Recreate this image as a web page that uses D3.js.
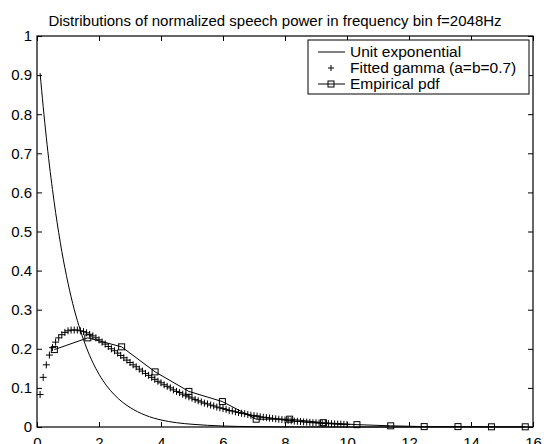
<!DOCTYPE html>
<html>
<head>
<meta charset="utf-8">
<script src="https://cdn.jsdelivr.net/npm/d3@7"></script>
<style>
  body { margin: 0; background: #fff; }
  svg { font-family: "Liberation Sans", Arial, Helvetica, sans-serif; }
  .tick text { font-size: 15px; fill: #000; }
</style>
</head>
<body>
<svg id="chart" width="544" height="444"></svg>
<script>
// unit exponential
const expX = [0.1, 0.2, 0.3, 0.4, 0.5, 0.6, 0.7, 0.8, 0.9, 1.0, 1.2, 1.4, 1.6, 1.8, 2.0, 2.25, 2.5, 2.75, 3.0, 3.5, 4.0, 4.5, 5.0, 6.0, 7.0, 8.0, 10.0, 12.0, 16.0];
const expY = [0.905, 0.819, 0.741, 0.670, 0.607, 0.549, 0.497, 0.449, 0.407, 0.368, 0.301, 0.247, 0.202, 0.165, 0.135, 0.105, 0.082, 0.064, 0.050, 0.030, 0.018, 0.011, 0.007, 0.0025, 0.0009, 0.0003, 0.00005, 0, 0];

// fitted gamma markers, x = 0.1 .. 10.0 step 0.1
const gammaY = [
  0.083, 0.127, 0.159, 0.184, 0.203, 0.217, 0.228, 0.236, 0.242, 0.246,
  0.248, 0.248, 0.248, 0.246, 0.244, 0.241, 0.237, 0.233, 0.228, 0.223,
  0.217, 0.212, 0.206, 0.200, 0.195, 0.189, 0.183, 0.177, 0.171, 0.165,
  0.159, 0.154, 0.148, 0.143, 0.137, 0.132, 0.127, 0.122, 0.117, 0.113,
  0.108, 0.104, 0.100, 0.095, 0.091, 0.088, 0.084, 0.080, 0.077, 0.074,
  0.070, 0.067, 0.064, 0.061, 0.059, 0.056, 0.054, 0.051, 0.049, 0.047,
  0.045, 0.042, 0.041, 0.039, 0.037, 0.035, 0.034, 0.032, 0.030, 0.029,
  0.028, 0.026, 0.025, 0.024, 0.023, 0.022, 0.021, 0.020, 0.019, 0.018,
  0.017, 0.016, 0.015, 0.0145, 0.014, 0.013, 0.0125, 0.012, 0.011, 0.011,
  0.010, 0.0097, 0.0092, 0.0088, 0.0083, 0.0079, 0.0075, 0.0072, 0.0068, 0.0065
];
const gammaX = gammaY.map((d, i) => (i + 1) / 10);

// empirical pdf (squares joined by a line)
const empX = [0.56, 1.64, 2.73, 3.81, 4.90, 5.98, 7.07, 8.15, 9.24, 10.32, 11.41, 12.49, 13.58, 14.66, 15.75];
const empY = [0.198, 0.228, 0.205, 0.141, 0.091, 0.065, 0.020, 0.020, 0.011, 0.006, 0.003, 0.001, 0.001, 0.0005, 0.0005];

const xTicks = [0, 2, 4, 6, 8, 10, 12, 14, 16];
const yTicks = [0, 0.1, 0.2, 0.3, 0.4, 0.5, 0.6, 0.7, 0.8, 0.9, 1];
const legendLabels = ["Unit exponential", "Fitted gamma (a=b=0.7)", "Empirical pdf"];
const title = "Distributions of normalized speech power in frequency bin f=2048Hz";

const margin = { left: 37, right: 11, top: 36, bottom: 17 };
const W = 544, H = 444;
const svg = d3.select("#chart");

const x = d3.scaleLinear().domain([0, 16]).range([margin.left, W - margin.right]);
const y = d3.scaleLinear().domain([0, 1]).range([H - margin.bottom, margin.top]);

// axes, ticks inside on all four sides (matlab style)
const tickLen = 5;
svg.append("g")
  .attr("transform", `translate(0,${y(0)})`)
  .call(d3.axisBottom(x).tickValues(xTicks).tickSize(-tickLen).tickPadding(10).tickFormat(d3.format("d")))
  .call(g => g.select(".domain").remove());
svg.append("g")
  .attr("transform", `translate(0,${y(1)})`)
  .call(d3.axisTop(x).tickValues(xTicks).tickSize(-tickLen).tickFormat(""))
  .call(g => g.select(".domain").remove());
svg.append("g")
  .attr("transform", `translate(${x(0)},0)`)
  .call(d3.axisLeft(y).tickValues(yTicks).tickSize(-tickLen).tickPadding(5).tickFormat(d => d3.format("")(+d.toFixed(1))))
  .call(g => g.select(".domain").remove());
svg.append("g")
  .attr("transform", `translate(${x(16)},0)`)
  .call(d3.axisRight(y).tickValues(yTicks).tickSize(-tickLen).tickFormat(""))
  .call(g => g.select(".domain").remove());

svg.selectAll(".tick line").attr("stroke", "#000");

svg.append("rect")
  .attr("x", x(0)).attr("y", y(1))
  .attr("width", x(16) - x(0)).attr("height", y(0) - y(1))
  .attr("fill", "none").attr("stroke", "#000").attr("stroke-width", 1.2);

// title
svg.append("text")
  .attr("x", 275).attr("y", 26)
  .attr("text-anchor", "middle").attr("font-size", 15)
  .text(title);

const plot = svg.append("g");

// unit exponential
const expLine = d3.line().x(d => x(d[0])).y(d => y(d[1])).curve(d3.curveMonotoneX);
plot.append("path")
  .datum(d3.zip(expX, expY))
  .attr("d", expLine)
  .attr("fill", "none").attr("stroke", "#000").attr("stroke-width", 1);

// empirical pdf
const empLine = d3.line().x(d => x(d[0])).y(d => y(d[1]));
plot.append("path")
  .datum(d3.zip(empX, empY))
  .attr("d", empLine)
  .attr("fill", "none").attr("stroke", "#000").attr("stroke-width", 1);
const sq = 6;
plot.selectAll(".sq")
  .data(d3.zip(empX, empY))
  .enter().append("rect")
  .attr("class", "sq")
  .attr("x", d => x(d[0]) - sq / 2).attr("y", d => y(d[1]) - sq / 2)
  .attr("width", sq).attr("height", sq)
  .attr("fill", "none").attr("stroke", "#000").attr("stroke-width", 1);

// fitted gamma "+" markers
const plus = (px, py, s) => `M${px - s},${py}H${px + s}M${px},${py - s}V${py + s}`;
plot.append("path")
  .attr("d", d3.zip(gammaX, gammaY).map(d => plus(x(d[0]), y(d[1]), 3.5)).join(""))
  .attr("fill", "none").attr("stroke", "#000").attr("stroke-width", 1);

// legend
const lg = svg.append("g");
lg.append("rect")
  .attr("x", 308).attr("y", 40).attr("width", 221).attr("height", 54)
  .attr("fill", "#fff").attr("stroke", "#000").attr("stroke-width", 1);
const rowY = [52, 68, 84];
legendLabels.forEach((lab, i) => {
  lg.append("text")
    .attr("x", 350).attr("y", rowY[i]).attr("dy", "0.35em")
    .attr("font-size", 15.5).text(lab);
});
lg.append("line").attr("x1", 318).attr("x2", 345).attr("y1", rowY[0]).attr("y2", rowY[0]).attr("stroke", "#000");
lg.append("path").attr("d", plus(331, rowY[1], 3)).attr("stroke", "#000");
lg.append("line").attr("x1", 318).attr("x2", 345).attr("y1", rowY[2]).attr("y2", rowY[2]).attr("stroke", "#000");
lg.append("rect").attr("x", 331 - sq / 2).attr("y", rowY[2] - sq / 2).attr("width", sq).attr("height", sq)
  .attr("fill", "none").attr("stroke", "#000");
</script>
</body>
</html>
